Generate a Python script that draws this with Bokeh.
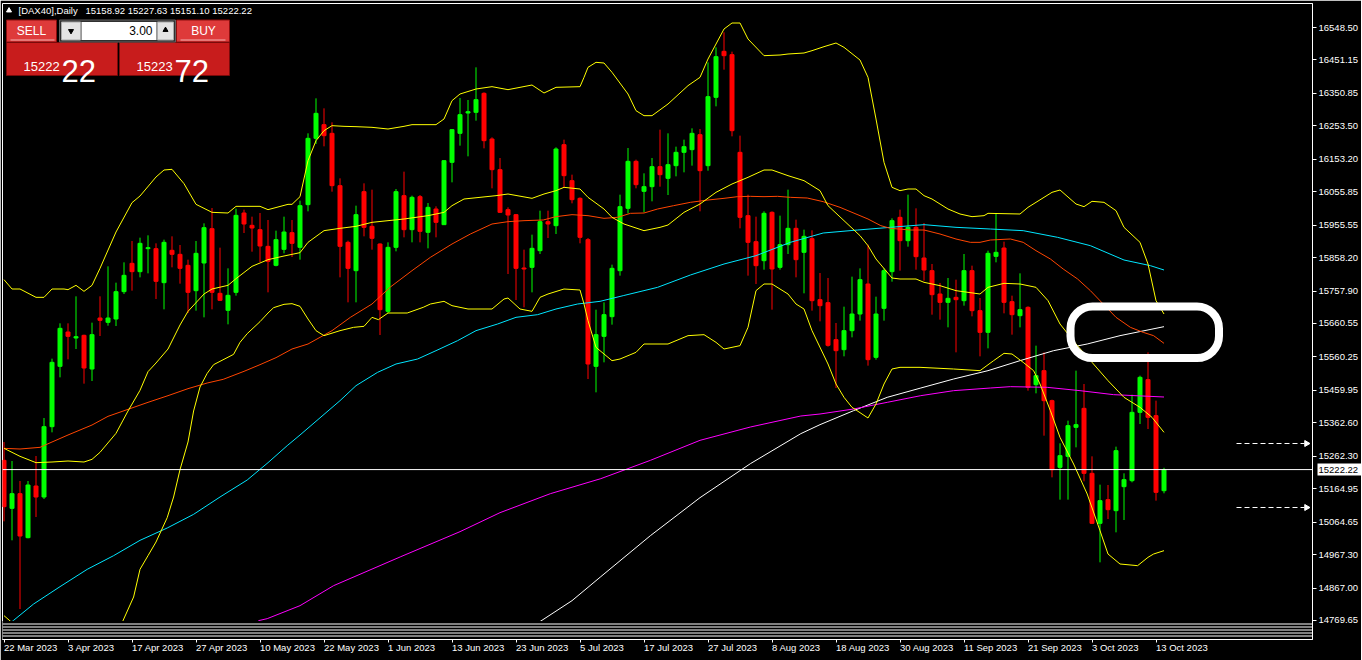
import numpy as np
from bokeh.plotting import figure
from bokeh.models import Range1d, FixedTicker, NumeralTickFormatter, Span, BoxAnnotation, LinearAxis
from bokeh.core.properties import value
from bokeh.embed import file_html
from bokeh.resources import INLINE

# ---------------- data ----------------
symbol_text = "[DAX40],Daily"
ohlc_text = "15158.92 15227.63 15151.10 15222.22"
bid = 15222.22
ask = 15223.72
lot_text = "3.00"
level_hi = 15300.5
level_lo = 15108.5

date_labels = ["22 Mar 2023", "3 Apr 2023", "17 Apr 2023", "27 Apr 2023", "10 May 2023",
               "22 May 2023", "1 Jun 2023", "13 Jun 2023", "23 Jun 2023", "5 Jul 2023",
               "17 Jul 2023", "27 Jul 2023", "8 Aug 2023", "18 Aug 2023", "30 Aug 2023",
               "11 Sep 2023", "21 Sep 2023", "3 Oct 2023", "13 Oct 2023"]
date_tick_bars = list(range(0, 145, 8))

price_ticks = [14769.65, 14867.00, 14967.30, 15064.65, 15164.95, 15262.30, 15362.60,
               15459.95, 15560.25, 15660.55, 15757.90, 15858.20, 15955.55, 16055.85,
               16153.20, 16253.50, 16350.85, 16451.15, 16548.50]

opens = [15250,15106,15150,15018,15173,15140,15351,15532,15635,15617,
         15625,15524,15677,15664,15674,15756,15841,15816,15885,15885,
         15783,15880,15868,15835,15759,15842,15945,15751,15700,15754,
         15992,15955,15942,15892,15835,15883,15933,15889,16017,16216,
         16257,16231,16074,15904,15819,16056,15952,15899,15697,15889,
         16044,15942,16041,15934,16004,15957,16144,16231,16292,16294,
         16351,16214,16122,16002,15987,15827,15829,15879,15966,15954,
         16197,16089,16036,15912,15532,15622,15681,15819,16006,16147,
         16057,16071,16131,16096,16134,16174,16182,16227,16134,16339,
         16477,16467,16174,15984,15906,15849,15994,15829,15897,15946,
         15874,15915,15732,15723,15612,15582,15639,15689,15779,15559,
         15706,15816,15979,15909,15949,15857,15819,15749,15724,15739,
         15729,15819,15699,15634,15862,15887,15726,15684,15709,15477,
         15519,15429,15229,15262,15349,15406,15211,15061,15132,15099,
         15171,15189,15394,15492,15384,15158.92]
highs = [15305,15248,15188,15188,15263,15377,15555,15661,15661,15742,
         15627,15663,15742,15832,15783,15844,15908,15918,15925,15901,
         15912,15922,15896,15852,15908,15961,16007,15888,15826,16005,
         16002,15981,15992,15971,15939,15981,15971,16029,16231,16336,
         16306,16264,16096,15909,16014,16081,16062,15901,15904,16064,
         16116,16044,16046,16022,16012,16150,16244,16337,16331,16429,
         16354,16219,16157,16009,15989,15882,15927,15999,15999,16189,
         16212,16107,16039,15917,15702,15724,15837,16047,16187,16152,
         16111,16157,16242,16231,16191,16212,16246,16244,16444,16489,
         16534,16476,16224,16047,15981,15997,15997,15984,16062,15972,
         15942,15940,15812,15797,15662,15711,15801,15826,15897,15741,
         15826,15976,16002,16047,16006,15962,15839,15782,15797,15792,
         15869,15834,15737,15879,15992,15906,15744,15811,15712,15594,
         15574,15432,15301,15369,15519,15479,15262,15177,15176,15291,
         15211,15447,15504,15574,15429,15227.63]
lows = [15067,15010,14804,15016,15080,15134,15334,15499,15553,15584,
        15480,15488,15623,15654,15653,15749,15759,15799,15811,15734,
        15703,15829,15780,15692,15699,15679,15703,15728,15658,15744,
        15932,15876,15845,15754,15832,15871,15860,15852,15997,16199,
        16192,16056,15799,15724,15724,15922,15882,15626,15692,15877,
        15919,15904,15904,15886,15919,15956,16084,16194,16162,16269,
        16186,16066,15992,15809,15731,15709,15754,15869,15917,15929,
        16069,16021,15901,15494,15454,15544,15657,15804,15991,16066,
        15994,16027,16071,16046,16102,16114,16134,15997,16119,16312,
        16422,16222,15946,15804,15779,15822,15702,15822,15869,15799,
        15751,15699,15667,15591,15467,15562,15619,15669,15534,15552,
        15669,15786,15819,15891,15822,15789,15687,15672,15649,15574,
        15714,15682,15562,15586,15844,15691,15627,15649,15459,15451,
        15324,15199,15132,15132,15289,15187,15059,14944,15074,15034,
        15071,15184,15359,15344,15129,15151.10]
closes = [15111,15150,15023,15176,15140,15351,15544,15646,15622,15621,
          15527,15627,15670,15677,15756,15805,15816,15901,15888,15787,
          15904,15868,15826,15754,15871,15948,15754,15730,15745,15985,
          15959,15947,15893,15847,15912,15935,15901,16014,16216,16291,
          16224,16074,15892,15826,15987,15949,15916,15702,15889,16056,
          15942,16039,15937,16009,15964,16149,16242,16287,16296,16332,
          16209,16122,15994,15986,15826,15824,15886,15966,15959,16184,
          16104,16032,15919,15539,15627,15687,15826,16011,16147,16077,
          16071,16131,16107,16137,16174,16191,16231,16119,16341,16461,
          16464,16239,15979,15904,15834,15991,15824,15897,15946,15852,
          15922,15729,15714,15595,15579,15639,15689,15792,15552,15689,
          15819,15969,15909,15949,15861,15821,15747,15724,15736,15732,
          15819,15699,15634,15871,15874,15724,15687,15702,15469,15504,
          15429,15222,15264,15354,15357,15211,15061,15129,15102,15279,
          15192,15394,15499,15379,15154,15222.22]

# Bollinger bands (bar index, price)
bb_up_x = [0,1,2,4,5,6,7.5,8,9,10,11,12,14,16,17,19,20,21,22.5,24,26,28,29,32,33,35.5,36,37,38,39,
           40,41,42.5,44,46,48,50,51,54,55,56,57,59,61,63,66,67.5,69,72,72.5,73,74,75,76,78,79,80,81,83,85.5,
           87,88,90,91,92,93,95,97,98,100,101,102.5,104,105,107,108,109,110,111,112,113,114,115,116,118,119.5,
           121,122.5,123,127,128,131,132,134,135,136,137.5,139,140,142,143,144,145]
bb_up_y = [15792,15764,15764,15739,15739,15764,15764,15762,15775,15757,15775,15826,15935,16023,16043,16100,16121,16123,16080,16018,
           15994,15992,16012,16012,16002,16018,16018,16041,16149,16209,16239,16254,16252,16251,16249,16244,16252,16257,16257,16274,
           16329,16349,16364,16371,16362,16376,16352,16369,16371,16399,16429,16444,16442,16414,16349,16299,16284,16284,16319,16374,
           16399,16454,16544,16562,16562,16514,16464,16466,16469,16472,16479,16491,16502,16489,16451,16399,16274,16144,16069,16059,
           16064,16064,16044,16034,16004,15989,15981,15984,15991,15989,16009,16054,16061,16019,16011,16027,16024,15999,15949,15904,
           15839,15729,15689]
bb_mid_x = [0,2,4,6,8,10,11,12,14,15.5,17,18,19,20.5,22,23,25,26,28,29,31,33,35,37,38,40,42,44,46,48,
            50,53,55,56,57.5,59.5,61.5,63,66,67.5,69,70,72,73,75,76,77.5,80,82,83,85,87,89,91,93,95,96,98,100,102,
            103,105,107,108,109,111,112,114,115,117,119,122,123,125,127,129,130.5,132,134,136,138,140,142,143.5,145]
bb_mid_y = [15286,15262,15243,15245,15248,15245,15253,15274,15331,15398,15460,15516,15542,15584,15656,15697,15749,15764,15775,15795,
            15832,15852,15863,15873,15904,15939,15946,15952,15964,15969,15974,15984,15994,16014,16034,16039,16044,16049,16036,16049,
            16059,16069,16064,16039,16004,15979,15959,15939,15949,15956,15994,16019,16054,16079,16099,16121,16121,16104,16089,16059,
            16014,15969,15924,15894,15854,15797,15794,15794,15784,15774,15759,15749,15769,15781,15779,15769,15729,15659,15599,15544,
            15489,15439,15409,15379,15334]
bb_low_x = [0,1.4,np.nan,14.8,16.2,17,18,19,20.4,21.2,22,23,23.7,24.5,25.4,26.2,28.7,29.5,30.4,32,33,33.7,35,
            36,37,38,39,40,42,43.7,45,46,46.8,48,50.4,52.4,53.3,55,56,58,61,62.5,63,64.5,66,67,68,70,72,72.5,73,74,76,
            77,79,80,83,85.5,87.5,89,90,91,92,93,94,95,96,98,99,100,101,103,104,105,106,108,109,110,111,112,114.5,118.7,122,
            123.7,125,126,127.4,128.7,129.5,130.8,132,133.7,135.4,137,138,139.5,141.7,143,143.7,145]
bb_low_y = [14784,14755,np.nan,14765,14840,14923,14964,15005,15078,15140,15222,15305,15398,15470,15511,15537,15568,15604,15630,15666,
            15692,15708,15718,15720,15712,15674,15639,15624,15639,15649,15652,15679,15672,15692,15692,15709,15719,15727,15714,15704,
            15704,15734,15737,15704,15697,15739,15749,15764,15761,15719,15669,15589,15549,15554,15574,15599,15599,15624,15627,15604,
            15584,15589,15594,15649,15759,15779,15779,15749,15719,15704,15639,15539,15479,15439,15409,15377,15419,15479,15524,15529,
            15529,15524,15519,15549,15571,15569,15544,15519,15479,15399,15319,15239,15149,15039,14969,14939,14934,14959,14969,14979]

# moving averages (bar index, price)
ma_red_x = [0,2,4.5,6,8,11,13,15.5,18,20.5,23,25.4,27.4,30,32,34,36,38,41,43.3,46,48.3,51,53.3,56,58.3,61,63,65,67.4,
            69,71,73,75,76.7,78.3,80,81.7,83.7,85.8,88,90,91.7,93.3,95,96.7,98.3,100.4,102.4,104.5,106,108,109.6,110.8,113.3,
            115,117,119,120.8,122,123.3,125.8,127.4,129,130.8,132.4,134.2,135.8,137.4,139,140.8,142.4,143.7,145]
ma_red_y = [15286,15284,15289,15305,15326,15356,15382,15403,15424,15444,15465,15482,15493,15517,15537,15558,15584,15599,15639,15679,
            15719,15770,15819,15859,15899,15929,15959,15966,15969,15971,15981,15987,15984,15976,15979,15991,15992,16004,16014,16024,
            16031,16036,16041,16042,16041,16042,16039,16037,16026,16009,15994,15974,15954,15946,15941,15941,15929,15914,15904,15904,
            15911,15914,15904,15879,15854,15824,15794,15759,15719,15679,15649,15634,15624,15601]
ma_cyan_x = [0.7,1.2,3.7,7,10.4,13.7,17,20.4,23.7,27,30.4,33,35.4,37,42,44,46.7,49,51.7,54,56.7,59,61.7,64,66.7,69,71.7,74.5,
             77.4,81.7,85.8,90,94,98.3,102.4,106.7,110.8,115,119,123.3,127.4,131.7,135.8,140,143.3,145]
ma_cyan_y = [14760,14770,14819,14871,14923,14964,15010,15047,15088,15140,15191,15243,15294,15326,15429,15474,15514,15539,15554,15579,
             15609,15639,15659,15679,15687,15704,15719,15727,15744,15769,15806,15839,15864,15904,15932,15941,15949,15957,15949,15944,
             15939,15919,15894,15851,15834,15821]
ma_magenta_x = [31.8,32.9,37,41.2,49.6,57,62,68.3,74.6,80.8,87,93.3,99.6,102,106.2,110.4,114.6,118.7,123.3,125.8,130.4,134.5,138.7,145]
ma_magenta_y = [14769,14775,14814,14874,14961,15036,15093,15150,15195,15250,15310,15350,15383,15389,15404,15424,15444,15459,15467,
                15471,15469,15459,15447,15440]
ma_white_x = [66.6,71,74.6,80.8,87,93.3,99.6,102,106.2,110.4,114.6,118.7,123,127,131.2,135.4,139.5,145]
ma_white_y = [14760,14829,14901,15024,15138,15240,15330,15357,15399,15439,15467,15494,15519,15549,15579,15599,15624,15651]

# ---------------- figure ----------------
FONT = "Liberation Sans"
FRAME_W, FRAME_H = 1310, 636
LEFT, TOP = 2, 3

def X(px):
    # screen pixel -> bar index (decorations only)
    return (px - 3.5) / 8.0

def Y(py):
    # screen pixel -> price (decorations only)
    return 16629.5 - 3.0 * py

p = figure(frame_width=FRAME_W, frame_height=FRAME_H,
           x_range=Range1d(X(LEFT), X(LEFT + FRAME_W)), y_range=Range1d(Y(TOP + FRAME_H), Y(TOP)),
           output_backend="svg", toolbar_location=None, y_axis_location="right",
           min_border_left=LEFT, min_border_top=TOP, min_border_right=49, min_border_bottom=20,
           background_fill_color="black", border_fill_color="black",
           outline_line_color="white", outline_line_width=1)
p.grid.visible = False

xa = p.xaxis[0]
xa.ticker = FixedTicker(ticks=date_tick_bars)
xa.major_label_overrides = {t: s for t, s in zip(date_tick_bars, date_labels)}
xa.axis_line_color = "white"
xa.major_tick_line_color = "white"
xa.major_tick_out = 3
xa.major_tick_in = 0
xa.minor_tick_line_color = None
xa.major_label_text_color = "white"
xa.major_label_text_font = FONT
xa.major_label_text_font_size = "9.5px"
xa.major_label_orientation = -0.0001
xa.major_label_standoff = 5

ya = p.yaxis[0]
ya.ticker = FixedTicker(ticks=price_ticks)
ya.formatter = NumeralTickFormatter(format="0.00")
ya.axis_line_color = "white"
ya.major_tick_line_color = "white"
ya.major_tick_out = 4
ya.major_tick_in = 0
ya.minor_tick_line_color = None
ya.major_label_text_color = "white"
ya.major_label_text_font = FONT
ya.major_label_text_font_size = "9.5px"
ya.major_label_standoff = 2

# bid price box on the price scale: a second price axis whose single thick tick forms the box
bid_axis = LinearAxis(ticker=FixedTicker(ticks=[bid]), formatter=NumeralTickFormatter(format="0.00"),
                      axis_line_color=None, minor_tick_line_color=None,
                      major_tick_line_color="white", major_tick_line_width=12,
                      major_tick_in=44, major_tick_out=0, major_label_standoff=-43,
                      major_label_text_color="black", major_label_text_font=FONT,
                      major_label_text_font_size="9.5px")
p.add_layout(bid_axis, "right")

# candles
idx = np.arange(len(opens))
O = np.array(opens, dtype=float)
H = np.array(highs, dtype=float)
L = np.array(lows, dtype=float)
C = np.array(closes, dtype=float)
up = C >= O
for mask, col in ((up, "#00ff00"), (~up, "#ff0000")):
    p.segment(x0=idx[mask], y0=L[mask], x1=idx[mask], y1=H[mask], line_color=col, line_width=1)
    p.vbar(x=idx[mask], width=0.5, top=np.maximum(O, C)[mask], bottom=np.minimum(O, C)[mask],
           fill_color=col, line_color=col, line_width=1)

# indicator lines
p.line(ma_white_x, ma_white_y, line_color="white", line_width=1)
p.line(ma_magenta_x, ma_magenta_y, line_color="#ff00ff", line_width=1)
p.line(ma_cyan_x, ma_cyan_y, line_color="#00e6ff", line_width=1)
p.line(ma_red_x, ma_red_y, line_color="#ff4500", line_width=1)
for bx, by in ((bb_up_x, bb_up_y), (bb_mid_x, bb_mid_y), (bb_low_x, bb_low_y)):
    p.line(bx, by, line_color="#ffff00", line_width=1)

# bottom strip
p.quad(left=[-2], right=[170], top=[Y(620.5)], bottom=[Y(641)], fill_color="black", line_color=None)
for py in (623.5, 626.5, 629.5, 632.5, 635.5):
    p.add_layout(Span(location=Y(py), dimension="width", line_color="white", line_width=1))

# bid line
p.add_layout(Span(location=bid, dimension="width", line_color="white", line_width=1))

# dashed level arrows
p.segment(x0=[X(1236), X(1236)], y0=[level_hi, level_lo], x1=[X(1304), X(1304)], y1=[level_hi, level_lo],
          line_color="white", line_width=1, line_dash="5 3")
p.scatter(x=[X(1306)] * 2, y=[level_hi, level_lo], marker="triangle", angle=-np.pi / 2,
          size=6, fill_color="white", line_color="white")

# white rounded highlight
p.add_layout(BoxAnnotation(left=X(1070), right=X(1218.5), top=Y(306), bottom=Y(357.5),
                           fill_alpha=0, line_color="white", line_width=8, line_alpha=1,
                           border_radius=22))

# header
p.scatter(x=[X(8.5)], y=[Y(10)], marker="triangle", size=5, fill_color="white", line_color="white")
p.text(x=[X(18), X(85)], y=[Y(10), Y(10)], text=[symbol_text, ohlc_text], text_color="white",
       text_font=value(FONT), text_font_size=value("9.5px"), text_baseline="middle", text_align="left")

# one-click trading panel
p.quad(left=[X(6), X(176)], right=[X(56), X(229)], top=[Y(19.5)] * 2, bottom=[Y(41.5)] * 2,
       fill_color="#de3a3a", line_color="#8a0d0d")
p.quad(left=[X(6), X(119)], right=[X(117), X(229)], top=[Y(42)] * 2, bottom=[Y(75)] * 2,
       fill_color="#c81c1c", line_color="#7a0a0a")
p.segment(x0=[X(10), X(180)], y0=[Y(39.5)] * 2, x1=[X(54), X(225)], y1=[Y(39.5)] * 2,
          line_color="#f2b2b2", line_width=1)
p.quad(left=[X(59)], right=[X(175)], top=[Y(19.5)], bottom=[Y(41.5)], fill_color="#303030", line_color="#606060")
p.quad(left=[X(61), X(157)], right=[X(80), X(173)], top=[Y(21.5)] * 2, bottom=[Y(39.5)] * 2,
       fill_color="#e4e4e4", line_color="#a8a8a8")
p.quad(left=[X(81)], right=[X(156)], top=[Y(21.5)], bottom=[Y(39.5)], fill_color="white", line_color=None)
p.scatter(x=[X(70.5)], y=[Y(30.5)], marker="inverted_triangle", size=5, fill_color="black", line_color="black")
p.scatter(x=[X(165)], y=[Y(29.5)], marker="triangle", size=5, fill_color="black", line_color="black")
p.text(x=[X(31), X(203)], y=[Y(30)] * 2, text=["SELL", "BUY"], text_color="white",
       text_font=value(FONT), text_font_size=value("12px"), text_baseline="middle", text_align="center")
p.text(x=[X(152)], y=[Y(30)], text=[lot_text], text_color="black",
       text_font=value(FONT), text_font_size=value("12px"), text_baseline="middle", text_align="right")
bid_s = f"{bid:.2f}"
ask_s = f"{ask:.2f}"
p.text(x=[X(23), X(136)], y=[Y(66)] * 2, text=[bid_s[:5], ask_s[:5]], text_color="white",
       text_font=value(FONT), text_font_size=value("13px"), text_baseline="alphabetic", text_align="left")
p.text(x=[X(61), X(174)], y=[Y(70.5)] * 2, text=[bid_s[6:8], ask_s[6:8]], text_color="white",
       text_font=value(FONT), text_font_size=value("31px"), text_baseline="alphabetic", text_align="left")

open("out.html", "w").write(file_html(p, INLINE, "DAX40 Daily"))
